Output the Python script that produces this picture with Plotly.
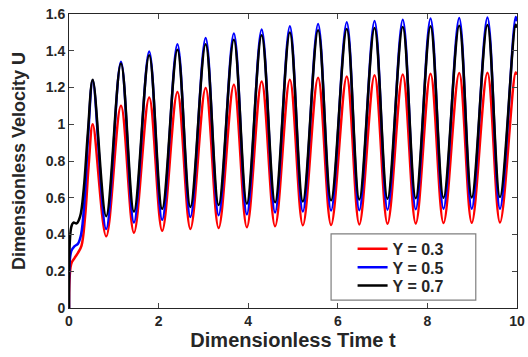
import plotly.graph_objects as go

# ---- data ----
t_peak = [0.53, 1.16, 1.79, 2.42, 3.05, 3.68, 4.30, 4.93, 5.56, 6.20, 6.82, 7.45, 8.07, 8.71, 9.34, 9.97]
t_trough = [0.83, 1.45, 2.08, 2.71, 3.34, 3.97, 4.60, 5.22, 5.85, 6.48, 7.11, 7.74, 8.36, 8.99, 9.62]

red_peak = [1.00, 1.10, 1.146, 1.175, 1.197, 1.215, 1.233, 1.242, 1.253, 1.26, 1.266, 1.271, 1.275, 1.279, 1.28, 1.282]
red_trough = [0.39, 0.41, 0.42, 0.43, 0.435, 0.44, 0.445, 0.45, 0.452, 0.455, 0.458, 0.46, 0.462, 0.464, 0.465]
blue_peak = [1.24, 1.34, 1.396, 1.436, 1.469, 1.494, 1.515, 1.533, 1.546, 1.555, 1.562, 1.569, 1.575, 1.578, 1.581, 1.584]
blue_trough = [0.43, 0.465, 0.48, 0.495, 0.505, 0.51, 0.52, 0.525, 0.53, 0.532, 0.535, 0.537, 0.54, 0.54, 0.54]
black_peak = [1.242, 1.33, 1.375, 1.406, 1.436, 1.46, 1.484, 1.50, 1.511, 1.518, 1.524, 1.529, 1.533, 1.536, 1.54, 1.542]
black_trough = [0.50, 0.525, 0.54, 0.55, 0.56, 0.568, 0.575, 0.58, 0.586, 0.59, 0.594, 0.597, 0.60, 0.602, 0.604]

# start-up transient (t, value) and end value at t = 10
red_start_t = [0.0, 0.05, 0.12, 0.20, 0.28, 0.36, 0.44]
red_start_v = [0.0, 0.24, 0.27, 0.30, 0.34, 0.50, 0.78]
blue_start_t = [0.0, 0.05, 0.12, 0.20, 0.27, 0.35, 0.43]
blue_start_v = [0.0, 0.31, 0.335, 0.35, 0.40, 0.60, 0.95]
black_start_t = [0.0, 0.05, 0.10, 0.17, 0.25, 0.33, 0.42]
black_start_v = [0.0, 0.44, 0.465, 0.46, 0.50, 0.65, 0.95]
t_end = 10.0
red_end, blue_end, black_end = 1.27, 1.56, 1.525

names = ["Y = 0.3", "Y = 0.5", "Y = 0.7"]
colors = ["#ff0000", "#0000ff", "#000000"]
x_ticks = [0, 2, 4, 6, 8, 10]
y_ticks = [0, 0.2, 0.4, 0.6, 0.8, 1, 1.2, 1.4, 1.6]


def build(st, sv, pk, tr, end):
    xs, ys = list(st), list(sv)
    for i in range(len(t_peak)):
        xs.append(t_peak[i]); ys.append(pk[i])
        if i < len(t_trough):
            xs.append(t_trough[i]); ys.append(tr[i])
    xs.append(t_end); ys.append(end)
    return xs, ys


series = [
    build(red_start_t, red_start_v, red_peak, red_trough, red_end),
    build(blue_start_t, blue_start_v, blue_peak, blue_trough, blue_end),
    build(black_start_t, black_start_v, black_peak, black_trough, black_end),
]

TXT = "#262626"
FONT = "Liberation Sans, Arial, sans-serif"
legend_ids = ["legend", "legend2", "legend3"]
legend_rows = [0.201, 0.138, 0.076]

fig = go.Figure()
for (xs, ys), nm, c, lg in zip(series, names, colors, legend_ids):
    fig.add_trace(go.Scatter(x=xs, y=ys, mode="lines", name=nm, legend=lg,
                             line=dict(color=c, width=2.5, shape="spline", smoothing=1.0)))

leg_common = dict(x=0.633, xanchor="left", yanchor="middle",
                  bgcolor="rgba(255,255,255,0)", borderwidth=0,
                  font=dict(family=FONT, size=16, color=TXT, weight="bold"),
                  itemwidth=30)

fig.update_layout(
    width=528, height=357,
    margin=dict(l=69, r=11, t=14, b=49),
    paper_bgcolor="white", plot_bgcolor="white",
    font=dict(family=FONT, color=TXT, size=14, weight="bold"),
    showlegend=True,
    legend=dict(y=legend_rows[0], **leg_common),
    legend2=dict(y=legend_rows[1], **leg_common),
    legend3=dict(y=legend_rows[2], **leg_common),
    shapes=[dict(type="rect", xref="paper", yref="paper",
                 x0=0.585, x1=0.908, y0=0.027, y1=0.252,
                 line=dict(color="#7f7f7f", width=1.2), fillcolor="white", layer="below")],
)
fig.update_xaxes(range=[0, 10], tickvals=x_ticks, ticks="inside", ticklen=5,
                 showline=True, linecolor=TXT, linewidth=1, mirror="ticks",
                 showgrid=False, zeroline=False, automargin=False,
                 tickfont=dict(family=FONT, size=14, color=TXT, weight="bold"),
                 title=dict(text="Dimensionless Time t", standoff=1,
                            font=dict(family=FONT, size=20, color=TXT, weight="bold")))
fig.update_yaxes(range=[0, 1.6], tickvals=y_ticks, ticks="inside", ticklen=5,
                 showline=True, linecolor=TXT, linewidth=1, mirror="ticks",
                 showgrid=False, zeroline=False, automargin=False,
                 tickfont=dict(family=FONT, size=14, color=TXT, weight="bold"),
                 title=dict(text="Dimensionless Velocity U",
                            font=dict(family=FONT, size=18, color=TXT, weight="bold")))

fig.write_html("out.html", config={"displayModeBar": False},
               post_script="document.body.style.margin='0px';document.body.style.padding='0px';")
